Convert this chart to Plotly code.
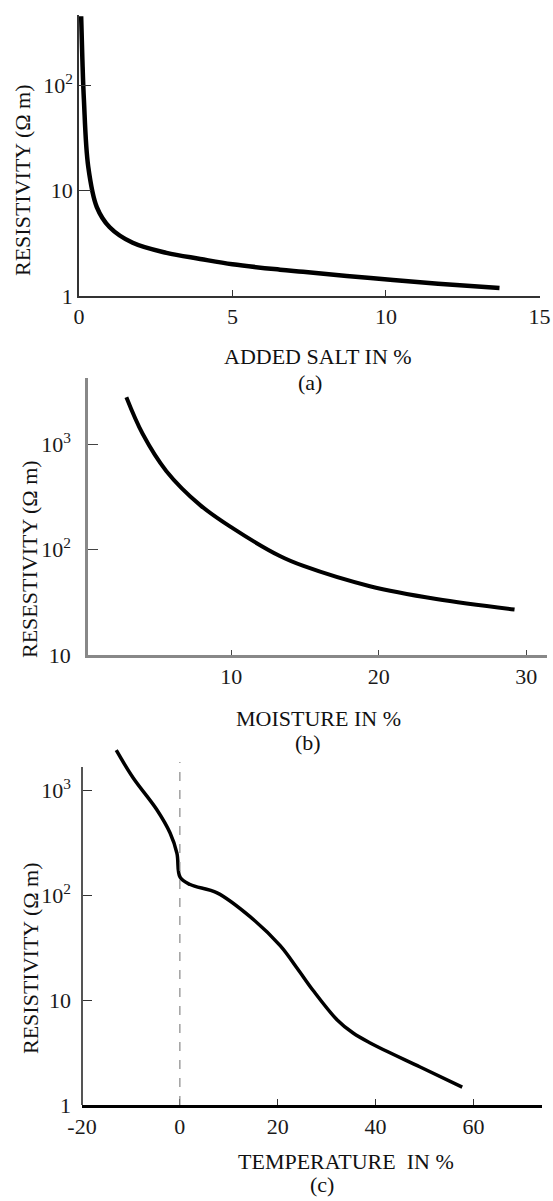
import plotly.graph_objects as go

W, H = 553, 1201
FONT = "Liberation Serif"

# (a) resistivity vs added salt
salt_pct = [0.07, 0.11, 0.16, 0.30, 0.58, 1.0, 1.75, 2.85, 3.95, 5.0, 6.55, 7.3, 9.5, 11.7, 13.7]
salt_res = [455, 177, 73, 17, 7.0, 4.5, 3.2, 2.57, 2.25, 2.0, 1.78, 1.70, 1.48, 1.31, 1.19]
salt_xticks = [0, 5, 10, 15]
salt_yticks = [1, 10, 100]
salt_ylabels = ["1", "10", "10<sup>2</sup>"]

# (b) resistivity vs moisture
moisture_pct = [2.9, 4.0, 5.6, 7.9, 10.1, 13.3, 14.9, 19.4, 23.9, 29.2]
moisture_res = [2800, 1260, 560, 265, 160, 87, 70, 45, 34, 27]
moisture_xticks = [10, 20, 30]
moisture_yticks = [10, 100, 1000]
moisture_ylabels = ["10", "10<sup>2</sup>", "10<sup>3</sup>"]

# (c) resistivity vs temperature
temp_c = [-13.0, -9.6, -4.7, -2.0, -0.6, 0.04, 2.1, 7.6, 14.4, 20.5, 24.0, 27.2, 32.1, 35.4, 38.9, 49.1, 57.7]
temp_res = [2400, 1320, 650, 390, 250, 148, 126, 105, 62, 33, 20, 12.4, 6.5, 4.85, 3.9, 2.3, 1.48]
temp_xticks = [-20, 0, 20, 40, 60]
temp_xlabels = ["-20", "0", "20", "40", "60"]
temp_yticks = [1, 10, 100, 1000]
temp_ylabels = ["1", "10", "10<sup>2</sup>", "10<sup>3</sup>"]


def px(x):
    return x / W


def py(y):
    return 1 - y / H


def dom_x(left, right):
    return [px(left), px(right)]


def dom_y(top, bottom):
    return [py(bottom), py(top)]


def axis(**kw):
    base = dict(showgrid=False, zeroline=False, ticks="inside", automargin=False,
                tickfont=dict(family=FONT, size=22, color="#1a1a1a"),
                showline=True)
    base.update(kw)
    return base


fig = go.Figure()
fig.add_trace(go.Scatter(x=salt_pct, y=salt_res, mode="lines", line_shape="spline",
                         line=dict(color="black", width=4.5), cliponaxis=False,
                         xaxis="x", yaxis="y"))
fig.add_trace(go.Scatter(x=moisture_pct, y=moisture_res, mode="lines", line_shape="spline",
                         line=dict(color="black", width=4), cliponaxis=False,
                         xaxis="x2", yaxis="y2"))
fig.add_trace(go.Scatter(x=temp_c, y=temp_res, mode="lines", line_shape="spline",
                         line=dict(color="black", width=3.5), cliponaxis=False,
                         xaxis="x3", yaxis="y3"))

fig.update_layout(
    width=W, height=H,
    margin=dict(l=0, r=0, t=0, b=0, autoexpand=False),
    paper_bgcolor="white", plot_bgcolor="white",
    showlegend=False,
    xaxis=axis(domain=dom_x(79, 540), range=[0, 15.02], anchor="y",
               tickvals=salt_xticks, ticklen=6, linecolor="#333", linewidth=1.5,
               tickcolor="#333"),
    yaxis=axis(domain=dom_y(15, 296), type="log", range=[0, 2.67], anchor="x",
               tickvals=salt_yticks, ticktext=salt_ylabels, ticklen=12,
               linecolor="#333", linewidth=1.5, tickcolor="#333"),
    xaxis2=axis(domain=dom_x(88, 547), range=[0.3, 31.4], anchor="y2",
                tickvals=moisture_xticks, ticklen=5, linecolor="#888", linewidth=2.5,
                tickcolor="#444"),
    yaxis2=axis(domain=dom_y(378, 655), type="log", range=[1, 3.63], anchor="x2",
                tickvals=moisture_yticks, ticktext=moisture_ylabels, ticklen=10,
                ticklabelstandoff=10,
                linecolor="#888", linewidth=2.5, tickcolor="#444"),
    xaxis3=axis(domain=dom_x(82, 542), range=[-20, 74], anchor="y3",
                tickvals=temp_xticks, ticktext=temp_xlabels, ticklen=6,
                linecolor="black", linewidth=3, tickcolor="#333"),
    yaxis3=axis(domain=dom_y(745, 1105), type="log", range=[0, 3.43], anchor="x3",
                tickvals=temp_yticks, ticktext=temp_ylabels, ticklen=10,
                ticklabelstandoff=10, showline=False, tickcolor="#333"),
)

# (c) left axis stops below the curve start, plus dashed 0 degree line
fig.add_shape(type="line", xref="x3 domain", yref="y3 domain",
              x0=0, x1=0, y0=0, y1=(1105 - 767) / (1105 - 745),
              line=dict(color="#555", width=2))
fig.add_shape(type="line", xref="x3", yref="y3 domain",
              x0=0, x1=0, y0=0, y1=(1105 - 762) / (1105 - 745),
              line=dict(color="#888", width=1.2, dash="dash"))

title_font = dict(family=FONT, size=22, color="#111")
labels = [
    ("ADDED SALT IN %", 318, 356),
    ("(a)", 310, 383),
    ("MOISTURE IN %", 318, 718),
    ("(b)", 308, 742),
    ("TEMPERATURE  IN %", 346, 1161),
    ("(c)", 322, 1184),
]
for text, x, y in labels:
    fig.add_annotation(text=text, xref="paper", yref="paper", x=px(x), y=py(y),
                       xanchor="center", yanchor="middle", showarrow=False, font=title_font)

ytitles = [
    ("RESISTIVITY (Ω m)", 22, 180),
    ("RESESTIVITY (Ω m)", 29, 559),
    ("RESISTIVITY (Ω m)", 30, 958),
]
for text, x, y in ytitles:
    fig.add_annotation(text=text, xref="paper", yref="paper", x=px(x), y=py(y),
                       xanchor="center", yanchor="middle", textangle=-90, showarrow=False,
                       font=title_font)

# drop the default body margin so the figure fills the window exactly
fig.write_html("out.html", config={"displayModeBar": False},
               post_script="document.body.style.margin = '0';")
